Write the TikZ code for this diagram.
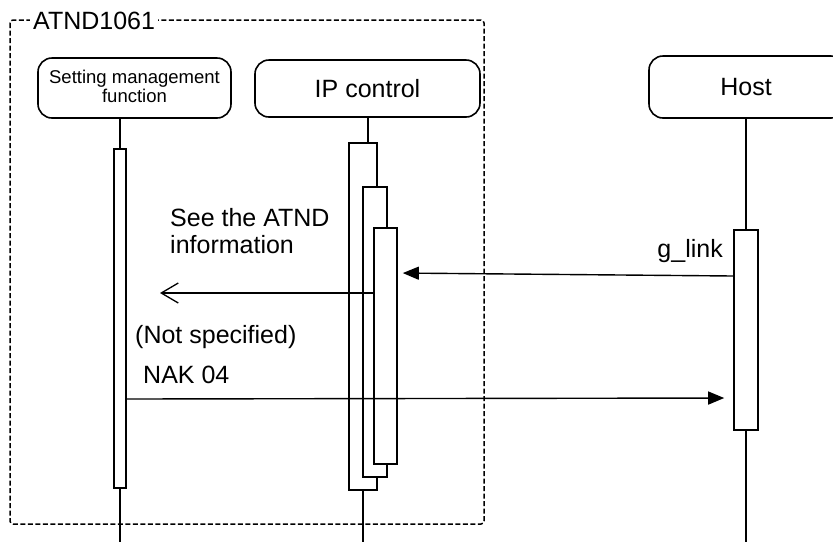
\documentclass[tikz,border=0pt]{standalone}
\usepackage{fontspec}
\setmainfont{Liberation Sans}
\usetikzlibrary{arrows.meta}
\begin{document}
\begin{tikzpicture}[x=1pt,y=-1pt,
  lbl/.style={font=\fontsize{25}{27}\selectfont, inner sep=0pt},
  headbox/.style={draw, line width=1.6pt, rounded corners=14pt, inner sep=0pt},
  act/.style={draw, fill=white, line width=1.6pt},
  life/.style={line width=1.4pt},
  msg/.style={line width=1.4pt},
  fillhead/.style={-{Triangle[length=16pt,width=13pt]}},
  openhead/.style={-{Straight Barb[length=17pt,width=20pt,line width=1.3pt]}}]
\useasboundingbox (0,0) rectangle (833,542);
% frame
\draw[line width=1.5pt, dash pattern=on 5pt off 2.5pt, rounded corners=3pt] (10,20) rectangle (484,524);
\node[lbl, fill=white, anchor=base west, inner xsep=3pt, inner ysep=4pt] (frame) at (30,29) {ATND1061};
% head boxes
\draw[headbox] (38,58) rectangle (231,118);
\node[inner sep=0pt, anchor=base, align=center, font=\fontsize{18.5}{17}\selectfont] (sm) at (134.5,102) {Setting management\\function};
\draw[headbox] (255,60) rectangle (480,117);
\node[lbl, anchor=base] (ip) at (367.5,97) {IP control};
\draw[headbox] (649,56) rectangle (845,118);
\node[lbl, anchor=base] (host) at (746,95) {Host};
% lifelines
\coordinate (smtop) at (120,118);
\coordinate (smbot) at (120,542);
\coordinate (iptop) at (368,117);
\coordinate (ipbot) at (363,542);
\coordinate (hosttop) at (746,118);
\coordinate (hostbot) at (746,542);
\draw[life] (smtop) -- (smbot);
\draw[life] (iptop) -- (368,143);
\draw[life] (363,490) -- (ipbot);
\draw[life] (hosttop) -- (hostbot);
% activations
\node[act, minimum width=12pt, minimum height=339pt, inner sep=0pt] (smact) at (120,318.5) {};
\node[act, minimum width=28pt, minimum height=347pt, inner sep=0pt] (ip1) at (363,316.5) {};
\node[act, minimum width=24pt, minimum height=290pt, inner sep=0pt] (ip2) at (375,332) {};
\node[act, minimum width=23pt, minimum height=236pt, inner sep=0pt] (ip3) at (385.5,346) {};
\node[act, minimum width=24pt, minimum height=200pt, inner sep=0pt] (hostact) at (746,330) {};
% messages
\coordinate (glA) at (hostact.west |- 0,276);
\coordinate (glB) at (ip3.east |- 0,273);
\draw[msg, fillhead, shorten >=5pt] (glA) -- (glB);
\node[lbl, anchor=base east] (gl) at (723,257) {g\_link};
\coordinate (seeA) at (ip3.west |- 0,293);
\coordinate (seeB) at (160,293);
\draw[msg, openhead] (seeA) -- (seeB);
\node[lbl, anchor=base west, align=left] (see) at (170,253) {See the ATND\\information};
\node[lbl, anchor=base west] (ns) at (135,343) {(Not specified)};
\node[lbl, anchor=base west] (nak) at (143,383) {NAK 04};
\coordinate (nakA) at (smact.east |- 0,399);
\coordinate (nakB) at (hostact.west |- 0,398);
\draw[msg, fillhead, shorten >=9pt] (nakA) -- (nakB);
\end{tikzpicture}
\end{document}
